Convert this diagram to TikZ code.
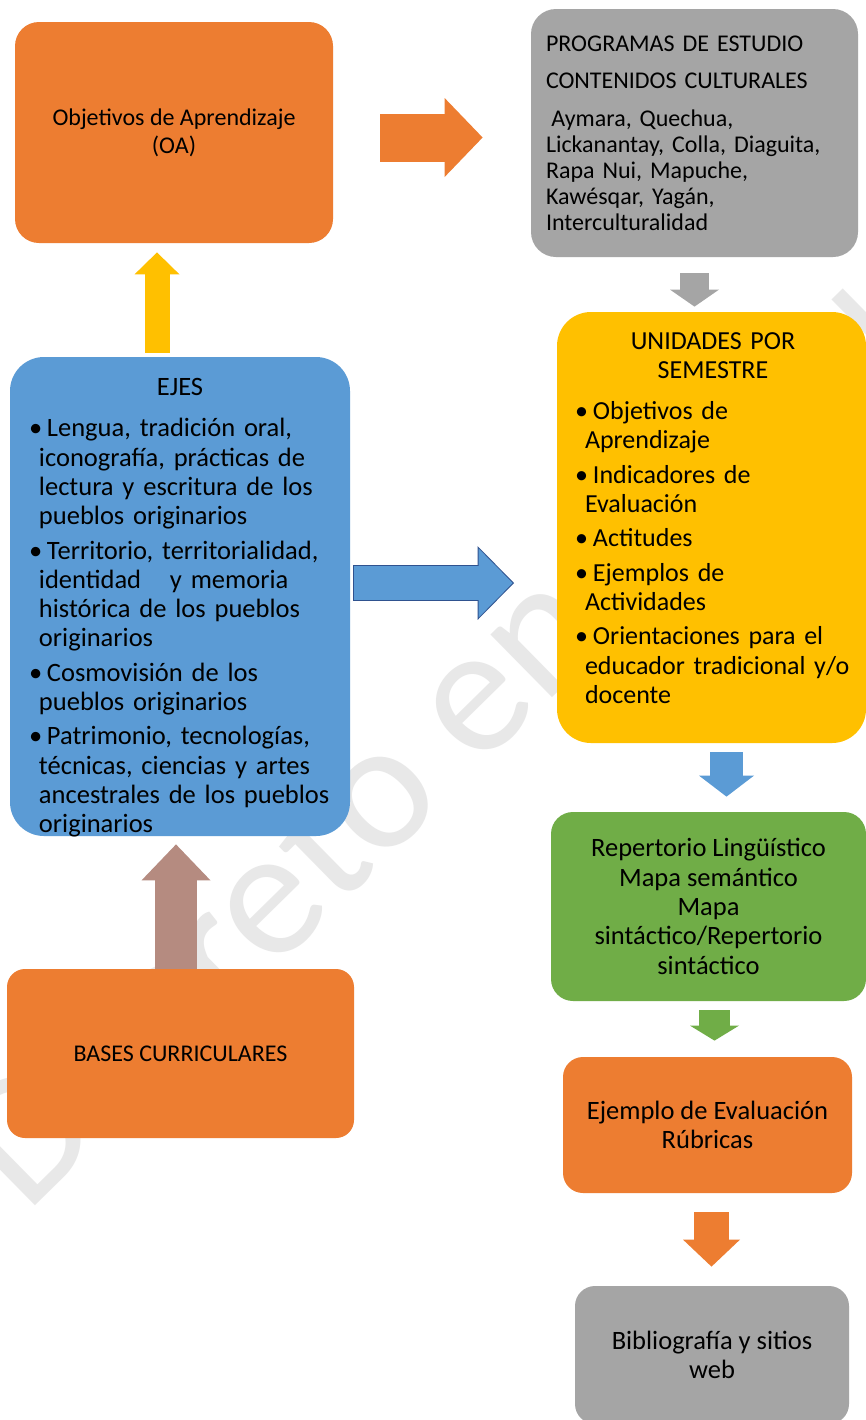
\documentclass[tikz,border=0pt]{standalone}
\usepackage{fontspec}
\setmainfont{Carlito}
\usepackage{tikz}
\usetikzlibrary
  {
    arrows.meta, % block arrow heads
  }

\definecolor{naranja}{HTML}{ED7D31}
\definecolor{gris}{HTML}{A5A5A5}
\definecolor{amarillo}{HTML}{FFC000}
\definecolor{azul}{HTML}{5B9BD5}
\definecolor{azulborde}{HTML}{2F528F}
\definecolor{verde}{HTML}{70AD47}
\definecolor{cafe}{HTML}{B58B80}
\definecolor{marcagris}{HTML}{E8E8E8}

\newcommand{\bul}{\makebox[9pt][l]{\textbullet}}
\newcommand{\sangria}{\hspace*{5pt}}

\begin{document}
\begin{tikzpicture}
    [
      x=0.5pt, y=-0.5pt,
      caja/.style=
        {
          rectangle,
          inner sep=0pt,
          align=center,
          text=black,
          font=\fontsize{13.25pt}{14.65pt}\selectfont,
        },
      texto/.style=
        {
          inner sep=0pt,
          align=left,
          text=black,
          font=\fontsize{13.25pt}{14.65pt}\selectfont,
        },
      flecha/.style n args={4}{draw=#1, line width=#2,
          arrows={-Triangle[length=#3, width=#4, line width=0pt]}},
      marca/.style=
        {
          inner sep=0pt,
          anchor=base west,
          rotate=44.5,
          text=marcagris,
          font=\fontsize{92pt}{92pt}\selectfont,
        }
    ]
    \useasboundingbox (0,0) rectangle (866,1420);
    \clip (0,0) rectangle (866,1420);
    \fill [white] (0,0) rectangle (866,1420);

    % watermark behind the boxes
    \node (borrador) [marca] at (26,1215) {Decreto en consulta};

    \node (oa) [caja, fill=naranja, rounded corners=12pt,
                minimum width=159pt, minimum height=110.5pt,
                font=\fontsize{12pt}{14pt}\selectfont] at (174,132.5)
      {Objetivos de Aprendizaje\\(OA)};
    \node (prog) [caja, fill=gris, rounded corners=12.5pt, align=left,
                  text width=148.5pt, minimum width=163.5pt, minimum height=124pt,
                  font=\fontsize{12pt}{13pt}\selectfont] at (694.5,133)
      {PROGRAMAS DE ESTUDIO\\[5.5pt]
       CONTENIDOS CULTURALES\\[6pt]
       \hspace*{2.7pt}Aymara, Quechua,\\
       Lickanantay, Colla, Diaguita,\\
       Rapa Nui, Mapuche,\\
       Kawésqar, Yagán,\\
       Interculturalidad};
    \node (ejes) [caja, fill=azul, rounded corners=17pt,
                  minimum width=170pt, minimum height=239.5pt] at (180,596.5) {};
    \node (unid) [caja, fill=amarillo, rounded corners=17pt,
                  minimum width=154.5pt, minimum height=215.5pt] at (711.5,527.5) {};
    \node (bases) [caja, fill=naranja, rounded corners=9pt,
                   minimum width=173.5pt, minimum height=84.5pt,
                   font=\fontsize{12pt}{14pt}\selectfont] at (180.5,1053.5)
      {BASES CURRICULARES};
    \node (repert) [caja, fill=verde, rounded corners=11pt,
                    minimum width=157.5pt, minimum height=94.5pt] at (708.5,906.5)
      {Repertorio Lingüístico\\Mapa semántico\\Mapa\\sintáctico/Repertorio\\sintáctico};
    \node (eval) [caja, fill=naranja, rounded corners=10pt,
                  minimum width=144.5pt, minimum height=68pt] at (707.5,1125)
      {Ejemplo de Evaluación\\Rúbricas};
    \node (biblio) [caja, fill=gris, rounded corners=10pt,
                    minimum width=137pt, minimum height=69pt] at (712,1355)
      {Bibliografía y sitios\\web};

    \node (ejes-t) [texto, text width=151pt] at (180,608)
      {\makebox[\linewidth][c]{EJES}\\[5.85pt]
       \bul Lengua, tradición oral,\\
       \sangria iconografía, prácticas de\\
       \sangria lectura y escritura de los\\
       \sangria pueblos originarios\\[2.5pt]
       \bul Territorio, territorialidad,\\
       \sangria identidad \hspace{10pt}y memoria\\
       \sangria histórica de los pueblos\\
       \sangria originarios\\[2.5pt]
       \bul Cosmovisión de los\\
       \sangria pueblos originarios\\[2.5pt]
       \bul Patrimonio, tecnologías,\\
       \sangria técnicas, ciencias y artes\\
       \sangria ancestrales de los pueblos\\
       \sangria originarios};
    \node (unid-t) [texto, text width=145pt,
                    font=\fontsize{13pt}{14.65pt}\selectfont] at (720,518)
      {\makebox[138pt][c]{UNIDADES POR}\\
       \makebox[138pt][c]{SEMESTRE}\\[5.85pt]
       \bul Objetivos de\\
       \sangria Aprendizaje\\[2.5pt]
       \bul Indicadores de\\
       \sangria Evaluación\\[2.5pt]
       \bul Actitudes\\[2.5pt]
       \bul Ejemplos de\\
       \sangria Actividades\\[2.5pt]
       \bul Orientaciones para el\\
       \sangria educador tradicional y/o\\
       \sangria docente};

    % block arrows
    \draw [flecha={naranja}{24pt}{19pt}{39.5pt}, shorten <=23.5pt, shorten >=24pt]
      ([yshift=-2.5pt]oa.east) -- ([yshift=-2.5pt]oa.east -| prog.west);
    \draw [flecha={gris}{14.5pt}{8.5pt}{24.5pt}, shorten <=8pt, shorten >=2.5pt]
      (prog.south) -- (prog.south |- unid.north);
    \draw [flecha={amarillo}{12.5pt}{11pt}{22.5pt}, shorten <=2pt, shorten >=4.5pt]
      ([xshift=-11.5pt]ejes.north) -- ([xshift=-11.5pt]ejes.north |- oa.south);
    \draw [preaction={draw=azulborde, line width=18pt,
                      arrows={-Triangle[length=18.2pt, width=36.9pt, line width=0pt]},
                      shorten <=1.5pt, shorten >=21.3pt},
           flecha={azul}{17pt}{17pt}{34.5pt}, shorten <=2pt, shorten >=22pt]
      ([yshift=6.75pt]ejes.east) -- ([yshift=6.75pt]ejes.east -| unid.west);
    \draw [flecha={azul}{16.5pt}{10.5pt}{27.5pt}, shorten <=4.5pt, shorten >=7.5pt]
      ([xshift=7.5pt]unid.south) -- ([xshift=7.5pt]unid.south |- repert.north);
    \draw [flecha={cafe}{21pt}{18pt}{34.5pt}, shorten >=4pt]
      ([xshift=-2.25pt]bases.north) -- ([xshift=-2.25pt]bases.north |- ejes.south);
    \draw [flecha={verde}{15.5pt}{7.5pt}{24.5pt}, shorten <=4.5pt, shorten >=8pt]
      ([xshift=3pt]repert.south) -- ([xshift=3pt]repert.south |- eval.north);
    \draw [flecha={naranja}{17.5pt}{13.5pt}{28.5pt}, shorten <=9.5pt, shorten >=9.5pt]
      ([xshift=2pt]eval.south) -- ([xshift=2pt]eval.south |- biblio.north);
  \end{tikzpicture}
\end{document}
